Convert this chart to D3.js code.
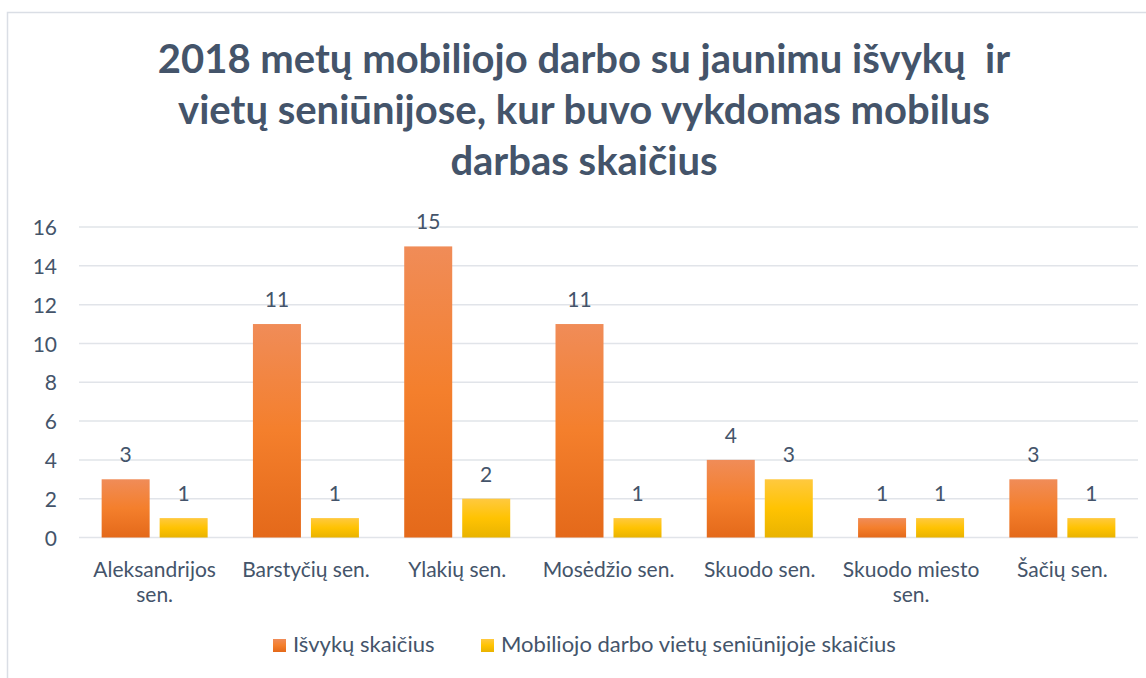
<!DOCTYPE html>
<html>
<head>
<meta charset="utf-8">
<script src="https://cdn.jsdelivr.net/npm/d3@7"></script>
<style>
  body { margin: 0; background: #fff; }
  svg text { font-family: Lato, "Open Sans", sans-serif; fill: #44546a; white-space: pre; }
</style>
</head>
<body>
<svg id="chart" width="1146" height="678"></svg>
<script>
// chart data
const titleLines = [
  "2018 metų mobiliojo darbo su jaunimu išvykų  ir",
  "vietų seniūnijose, kur buvo vykdomas mobilus",
  "darbas skaičius"
];
const categories = [
  "Aleksandrijos sen.",
  "Barstyčių sen.",
  "Ylakių sen.",
  "Mosėdžio sen.",
  "Skuodo sen.",
  "Skuodo miesto sen.",
  "Šačių sen."
];
const seriesNames = ["Išvykų skaičius", "Mobiliojo darbo vietų seniūnijoje skaičius"];
const trips = [3, 11, 15, 11, 4, 1, 3];
const places = [1, 1, 2, 1, 3, 1, 1];
const yTicks = [0, 2, 4, 6, 8, 10, 12, 14, 16];

const svg = d3.select("#chart");

// gradients (Excel style: light at top, darker at bottom)
const defs = svg.append("defs");
function addGrad(id, stops) {
  const g = defs.append("linearGradient").attr("id", id)
    .attr("x1", 0).attr("y1", 0).attr("x2", 0).attr("y2", 1);
  stops.forEach(s => g.append("stop").attr("offset", s[0]).attr("stop-color", s[1]));
}
addGrad("gOrange", [[0, "#f08c58"], [0.5, "#f47f2c"], [1, "#e4691a"]]);
addGrad("gYellow", [[0, "#ffc93f"], [0.5, "#ffc302"], [1, "#e9b300"]]);
const fills = ["url(#gOrange)", "url(#gYellow)"];

// chart frame (cut off on the right and bottom, like the screenshot)
svg.append("rect")
  .attr("x", 7.5).attr("y", 12.5)
  .attr("width", 1300).attr("height", 800)
  .attr("fill", "none").attr("stroke", "#dadee5").attr("stroke-width", 1.5);

// title
svg.append("g").selectAll("text")
  .data(titleLines)
  .join("text")
    .attr("x", 584)
    .attr("y", (d, i) => 73 + i * 51)
    .attr("text-anchor", "middle")
    .attr("font-size", 40)
    .attr("font-weight", 700)
    .text(d => d);

// scales
const y = d3.scaleLinear().domain([0, 16]).range([537.5, 227]);
const x0 = d3.scaleBand().domain(categories).range([79, 1138]);
const groupW = 106;
const x1 = d3.scaleBand().domain(seriesNames)
  .range([(x0.bandwidth() - groupW) / 2, (x0.bandwidth() + groupW) / 2])
  .paddingInner(0.1724);

// gridlines
svg.append("g").selectAll("line")
  .data(yTicks)
  .join("line")
    .attr("x1", 79).attr("x2", 1138)
    .attr("y1", d => y(d)).attr("y2", d => y(d))
    .attr("stroke", "#e1e4e9").attr("stroke-width", 1.5);

// y axis labels
const yAxis = svg.append("g")
  .attr("transform", "translate(57,0)")
  .call(d3.axisLeft(y).tickValues(yTicks).tickSize(0).tickPadding(0));
yAxis.select(".domain").remove();
yAxis.selectAll("text")
  .attr("font-size", 21)
  .attr("font-family", null)
  .attr("fill", null)
  .attr("dy", "0.36em");

// bars
const rows = categories.map((c, i) => ({ cat: c, vals: [trips[i], places[i]] }));
const groups = svg.append("g").selectAll("g")
  .data(rows)
  .join("g")
    .attr("transform", d => `translate(${x0(d.cat)},0)`);

groups.selectAll("rect")
  .data(d => d.vals.map((v, k) => ({ k, v })))
  .join("rect")
    .attr("x", d => x1(seriesNames[d.k]))
    .attr("y", d => y(d.v))
    .attr("width", x1.bandwidth())
    .attr("height", d => y(0) - y(d.v))
    .attr("fill", d => fills[d.k]);

// data labels
groups.selectAll("text.lbl")
  .data(d => d.vals.map((v, k) => ({ k, v })))
  .join("text")
    .attr("class", "lbl")
    .attr("x", d => x1(seriesNames[d.k]) + x1.bandwidth() / 2)
    .attr("y", d => y(d.v) - 17)
    .attr("text-anchor", "middle")
    .attr("font-size", 21)
    .text(d => d.v);

// category labels, wrapped to band width
const xAxis = svg.append("g")
  .attr("transform", `translate(0,${y(0)})`)
  .call(d3.axisBottom(x0).tickSize(0).tickPadding(0));
xAxis.select(".domain").remove();
xAxis.selectAll("text")
  .attr("font-size", 21)
  .attr("font-family", null)
  .attr("fill", null)
  .attr("dy", null)
  .attr("y", 39)
  .each(function (d) {
    const t = d3.select(this);
    const words = d.split(" ");
    t.text(null);
    let line = [];
    let tspan = t.append("tspan").attr("x", 0);
    for (const w of words) {
      line.push(w);
      tspan.text(line.join(" "));
      if (tspan.node().getComputedTextLength() > x0.bandwidth() - 6 && line.length > 1) {
        line.pop();
        tspan.text(line.join(" "));
        line = [w];
        tspan = t.append("tspan").attr("x", 0).attr("dy", 25).text(w);
      }
    }
  });

// legend
const legend = svg.append("g");
const legendX = [273, 481];
seriesNames.forEach((s, k) => {
  legend.append("rect")
    .attr("x", legendX[k]).attr("y", 639)
    .attr("width", 13).attr("height", 13)
    .attr("fill", fills[k]);
  legend.append("text")
    .attr("x", legendX[k] + 20).attr("y", 652)
    .attr("font-size", 22)
    .text(s);
});
</script>
</body>
</html>
